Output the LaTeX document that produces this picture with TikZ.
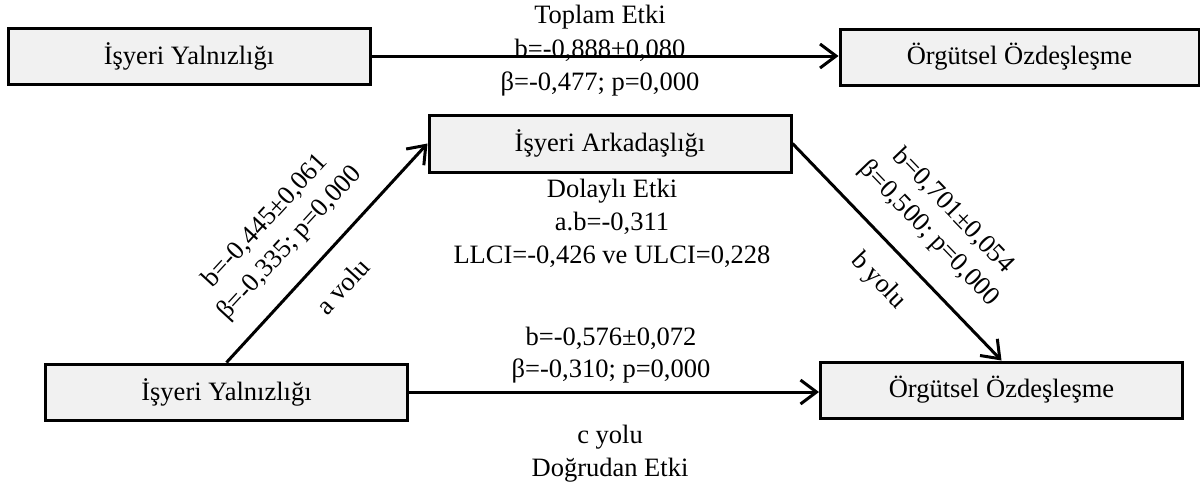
\documentclass[tikz,border=0pt]{standalone}
\usepackage{fontspec}
\setmainfont{Liberation Serif}
\usetikzlibrary{arrows.meta}
\definecolor{boxfill}{HTML}{F1F1F1}
\newcommand\lblfont{\fontsize{26.5}{33}\selectfont}
\begin{document}
\begin{tikzpicture}[x=1pt,y=-1pt,
  box/.style={draw=black, line width=3pt, fill=boxfill, minimum width=362pt, minimum height=56pt, inner sep=0pt, font=\lblfont},
  lbl/.style={font=\lblfont, inner sep=0pt, anchor=base},
  slbl/.style={font=\lblfont, inner sep=0pt, align=center, sloped},
  conn/.style={line width=3pt, -{Straight Barb[length=16pt,width=24pt]}},
]
\useasboundingbox (0,0) rectangle (1200,488);
% boxes
\node[box] (tl) at (189,56) {İşyeri Yalnızlığı};
\node[box, minimum width=359pt] (tr) at (1019.5,57) {Örgütsel Özdeşleşme};
\node[box, minimum height=57pt] (ia) at (610,143.5) {İşyeri Arkadaşlığı};
\node[box] (bl) at (226.5,392) {İşyeri Yalnızlığı};
\node[box] (br) at (1001.5,390) {Örgütsel Özdeşleşme};
% total effect labels
\node[lbl] (t1) at (600,23) {Toplam Etki};
\node[lbl] (t2) at (600,57) {b=-0,888±0,080};
\node[lbl] (t3) at (600,90) {β=-0,477; p=0,000};
% indirect effect labels
\node[lbl] (m1) at (612,197) {Dolaylı Etki};
\node[lbl] (m2) at (612,230) {a.b=-0,311};
\node[lbl] (m3) at (612,263) {LLCI=-0,426 ve ULCI=0,228};
% direct effect labels
\node[lbl] (d1) at (611,345) {b=-0,576±0,072};
\node[lbl] (d2) at (611,377) {β=-0,310; p=0,000};
\node[lbl] (d3) at (610,443) {c yolu};
\node[lbl] (d4) at (610,476) {Doğrudan Etki};
% connectors
\draw[conn] (tl.east) -- (tl.east -| tr.west);
\draw[conn] (bl.east) -- (bl.east -| br.west);
\draw[conn] (bl.north) -- (ia.west)
  node[slbl, pos=0.44, above=50pt, anchor=center] (al) {b=-0,445±0,061\\β=-0,335; p=0,000}
  node[slbl, pos=0.453, below=34pt, anchor=center] (ay) {a volu};
\draw[conn] (ia.east) -- (br.north)
  node[slbl, pos=0.53, above=52pt, anchor=center] (bl2) {b=0,701±0,054\\β=0,500; p=0,000}
  node[slbl, pos=0.526, below=34pt, anchor=center] (by) {b yolu};
\end{tikzpicture}
\end{document}
